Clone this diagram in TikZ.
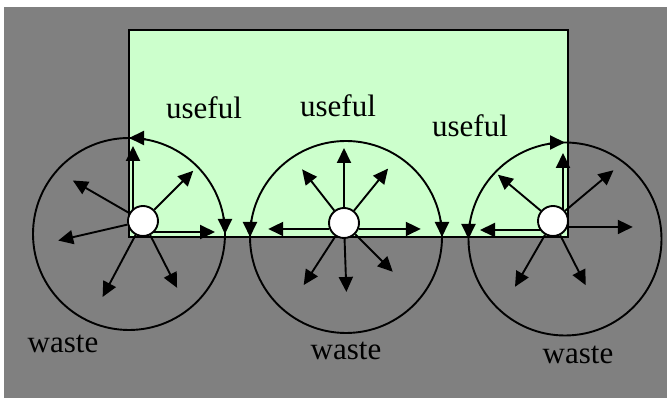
\documentclass[tikz,border=0pt]{standalone}
\usepackage{fontspec}
\setmainfont{Liberation Serif}
\usetikzlibrary{arrows.meta}
\definecolor{backgray}{RGB}{128,128,128}
\definecolor{usefulgreen}{RGB}{204,255,204}

\begin{document}
\begin{tikzpicture}[x=1pt, y=1pt,
    ray/.style={-{Triangle[length=15pt, width=14pt]}, line width=1.9pt},
    ring/.style={line width=1.9pt},
    source/.style={circle, draw, line width=1.9pt, fill=white, minimum size=30pt, inner sep=0pt},
    lbl/.style={font=\fontsize{31}{34}\selectfont, anchor=base}
]
    \useasboundingbox (0,0) rectangle (667,398);
    \fill[backgray] (4,0) rectangle (667,391);
    \draw[line width=1.9pt, fill=usefulgreen] (129,161) rectangle (568,368);

    \draw[ring] (129,164) circle[radius=96];
    \draw[ring] (346,161) circle[radius=96];
    \draw[ring] (565,159) circle[radius=96.5];
    \draw[ray] (129,164) ++(80:96) arc[start angle=80, end angle=90, radius=96];
    \draw[ray] (129,164) ++(10:96) arc[start angle=10, end angle=0, radius=96];
    \draw[ray] (346,161) ++(10:96) arc[start angle=10, end angle=0, radius=96];
    \draw[ray] (346,161) ++(170:96) arc[start angle=170, end angle=180, radius=96];
    \draw[ray] (565,159) ++(100:96.5) arc[start angle=100, end angle=90, radius=96.5];
    \draw[ray] (565,159) ++(170:96.5) arc[start angle=170, end angle=180, radius=96.5];

    \coordinate (c1) at (133,166);
    \coordinate (c3) at (563,168);
    \draw[ray] (c1) -- ++(0,86);
    \draw[ray] (c1) -- ++(82,0);
    \draw[ray] (c3) -- ++(0,77);
    \draw[ray] (c3) -- ++(-83,0);

    \node[source] (s1) at (143,177) {};
    \node[source] (s2) at (344,175) {};
    \node[source] (s3) at (553,177) {};

    \foreach \a/\r in {45/71, 150/81, 193/87, 242/86, 297/75}
        \draw[ray] (s1) -- ++(\a:\r);
    \foreach \a/\r in {90/75, 128/68, 51/70, 272/69, 237/74, 315/69}
        \draw[ray] (s2) -- ++(\a:\r);
    \draw[ray] (s2.-22) -- ++(62,0);
    \draw[ray] (s2.202) -- ++(-61,0);
    \foreach \a/\r in {140/72, 40/79, 240/76, 297/72}
        \draw[ray] (s3) -- ++(\a:\r);
    \draw[ray] (s3.-22) -- ++(65,0);

    \node[lbl] (u1) at (204,279) {useful};
    \node[lbl] (u2) at (338,281) {useful};
    \node[lbl] (u3) at (470,261) {useful};
    \node[lbl] (w1) at (63,45) {waste};
    \node[lbl] (w2) at (346,38) {waste};
    \node[lbl] (w3) at (578,34) {waste};
\end{tikzpicture}
\end{document}
